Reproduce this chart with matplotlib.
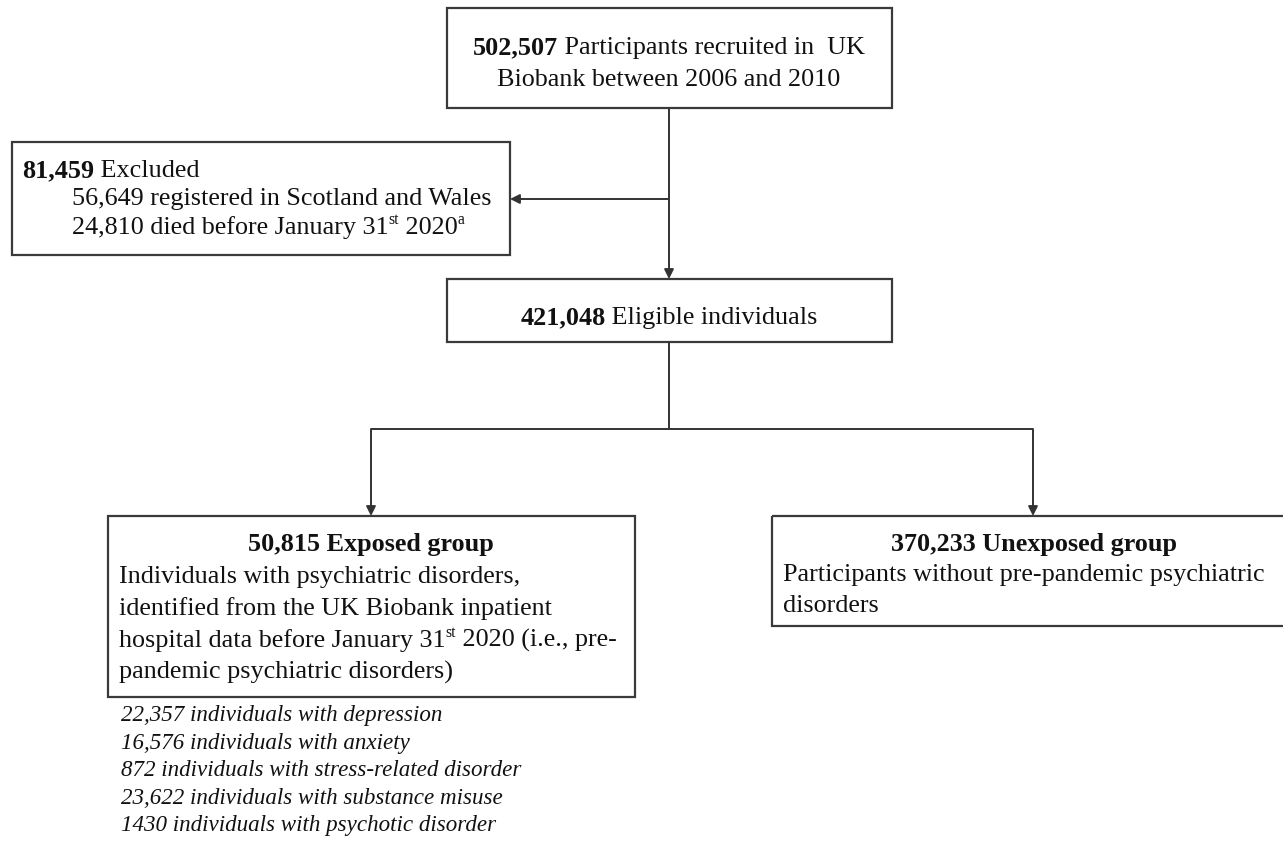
import matplotlib
matplotlib.use("Agg")
import matplotlib.pyplot as plt
from matplotlib.patches import Rectangle, FancyArrowPatch

W, H = 1283, 846
DPI = 100
FS = 18.8
FS_I = 16.6
FAM = "Liberation Serif"
LC = "#333333"

# ---- data ----
total_recruited = "502,507"
recruit_text = [" Participants recruited in  UK", "Biobank between 2006 and 2010"]
excluded_total = "81,459"
excluded_reasons_n = ["56,649", "24,810"]
excluded_reasons = [" registered in Scotland and Wales", " died before January 31"]
eligible_n = "421,048"
exposed_n = "50,815"
exposed_desc = ["Individuals with psychiatric disorders,",
                "identified from the UK Biobank inpatient",
                "hospital data before January 31",
                "pandemic psychiatric disorders)"]
unexposed_n = "370,233"
unexposed_desc = ["Participants without pre-pandemic psychiatric", "disorders"]
subgroup_n = ["22,357", "16,576", "872", "23,622", "1430"]
subgroup_labels = ["depression", "anxiety", "stress-related disorder",
                   "substance misuse", "psychotic disorder"]

fig = plt.figure(figsize=(W / DPI, H / DPI), dpi=DPI)
ax = fig.add_axes([0, 0, 1, 1])
ax.set_xlim(0, W)
ax.set_ylim(H, 0)
ax.axis("off")
renderer = fig.canvas.get_renderer()


def runs(x, y, parts, ha="left", fs=FS):
    arts = []
    widths = []
    for txt, kw in parts:
        sup = kw.get("sup", False)
        size = fs * 0.6 if sup else fs
        t = ax.text(0, 0, txt, fontsize=size, family=FAM,
                    weight=kw.get("weight", "normal"),
                    style=kw.get("style", "normal"),
                    va="baseline", ha="left", color="#111111")
        bb = t.get_window_extent(renderer)
        widths.append(bb.width)
        arts.append((t, sup))
    total = sum(widths)
    x0 = x - total / 2 if ha == "center" else x
    for (t, sup), w in zip(arts, widths):
        t.set_position((x0, y - (fs * 0.52 if sup else 0)))
        x0 += w


def box(x0, y0, x1, y1):
    ax.add_patch(Rectangle((x0, y0), x1 - x0, y1 - y0, fill=False,
                           edgecolor="#3a3a3a", lw=1.6, clip_on=True))


def line(xs, ys):
    ax.plot(xs, ys, color=LC, lw=1.4, solid_capstyle="butt")


def arrow(x0, y0, x1, y1):
    ax.add_patch(FancyArrowPatch((x0, y0), (x1, y1), arrowstyle="-|>",
                                 mutation_scale=14, color=LC, lw=1.4,
                                 shrinkA=0, shrinkB=0))


B = {"weight": "bold"}
N = {}
I = {"style": "italic"}
S = {"sup": True}

# top box
box(447, 8, 892, 108)
runs(669, 54, [(total_recruited, B), (recruit_text[0], N)], ha="center")
runs(669, 86, [(recruit_text[1], N)], ha="center")

# exclusion box
box(12, 142, 510, 255)
runs(22, 177, [(excluded_total, B), (" Excluded", N)])
runs(72, 205, [(excluded_reasons_n[0] + excluded_reasons[0], N)])
runs(72, 234, [(excluded_reasons_n[1] + excluded_reasons[1], N),
               ("st", S), (" 2020", N), ("a", S)])

# eligible box
box(447, 279, 892, 342)
runs(669, 324, [(eligible_n, B), (" Eligible individuals", N)], ha="center")

# connectors top
line([669, 669], [108, 199])
arrow(669, 199, 510, 199)
arrow(669, 199, 669, 279)

# branch
line([669, 669], [342, 429])
line([371, 1033], [429, 429])
arrow(371, 429, 371, 516)
arrow(1033, 429, 1033, 516)

# exposed box
box(108, 516, 635, 697)
runs(371, 551, [(exposed_n + " Exposed group", B)], ha="center")
runs(119, 583, [(exposed_desc[0], N)])
runs(119, 615, [(exposed_desc[1], N)])
runs(119, 647, [(exposed_desc[2], N), ("st", S), (" 2020 (i.e., pre-", N)])
runs(119, 679, [(exposed_desc[3], N)])

# unexposed box (extends past the right edge of the image)
box(772, 516, 1296, 626)
runs(1034, 551, [(unexposed_n + " Unexposed group", B)], ha="center")
runs(783, 581, [(unexposed_desc[0], N)])
runs(783, 612, [(unexposed_desc[1], N)])

# subgroup list
for i, (n, lab) in enumerate(zip(subgroup_n, subgroup_labels)):
    runs(121, 721 + i * 27.5, [(f"{n} individuals with {lab}", I)], fs=FS_I)

fig.savefig("out.png", dpi=DPI)
